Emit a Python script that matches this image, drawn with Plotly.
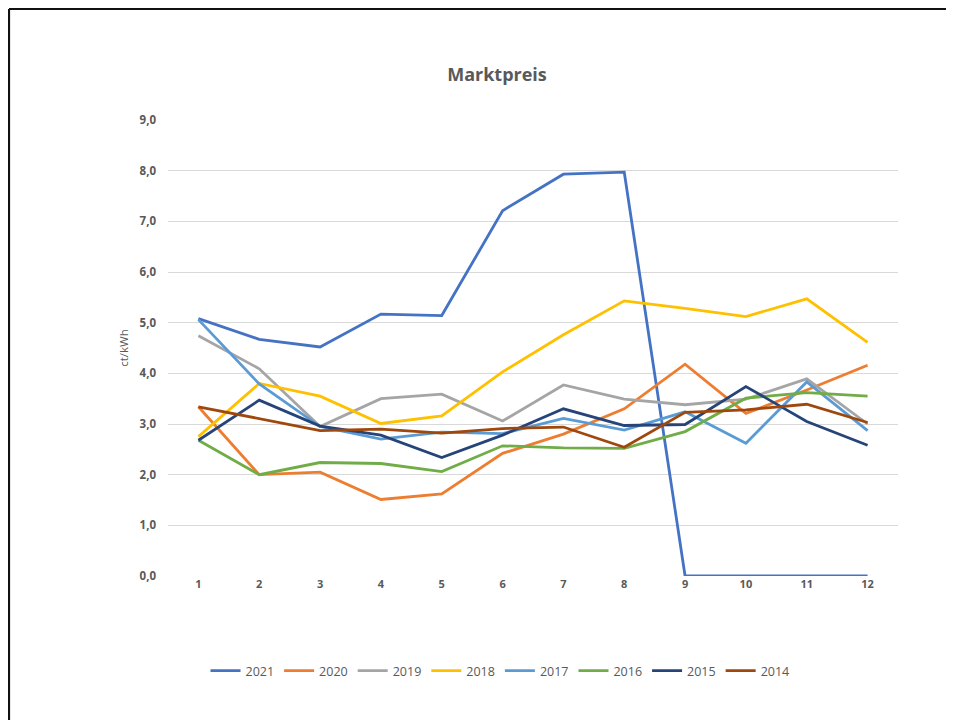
import plotly.graph_objects as go

months = [1, 2, 3, 4, 5, 6, 7, 8, 9, 10, 11, 12]
month_labels = ["1", "2", "3", "4", "5", "6", "7", "8", "9", "10", "11", "12"]

y2021 = [5.08, 4.67, 4.52, 5.17, 5.14, 7.21, 7.93, 7.97, 0.0, 0.0, 0.0, 0.0]
y2020 = [3.34, 2.00, 2.05, 1.51, 1.62, 2.42, 2.80, 3.30, 4.18, 3.21, 3.67, 4.16]
y2019 = [4.74, 4.09, 2.95, 3.50, 3.59, 3.06, 3.77, 3.49, 3.38, 3.49, 3.89, 3.00]
y2018 = [2.75, 3.80, 3.55, 3.01, 3.16, 4.03, 4.76, 5.43, 5.28, 5.12, 5.47, 4.61]
y2017 = [5.06, 3.79, 2.95, 2.70, 2.84, 2.81, 3.11, 2.88, 3.24, 2.62, 3.83, 2.87]
y2016 = [2.68, 2.00, 2.24, 2.22, 2.06, 2.57, 2.53, 2.52, 2.85, 3.51, 3.62, 3.55]
y2015 = [2.68, 3.47, 2.96, 2.78, 2.34, 2.78, 3.30, 2.97, 2.99, 3.74, 3.05, 2.58]
y2014 = [3.34, 3.11, 2.87, 2.90, 2.82, 2.91, 2.94, 2.54, 3.23, 3.28, 3.39, 3.03]

series_names = ["2021", "2020", "2019", "2018", "2017", "2016", "2015", "2014"]
series_values = [y2021, y2020, y2019, y2018, y2017, y2016, y2015, y2014]
colors = ["#4472C4", "#ED7D31", "#A5A5A5", "#FFC000", "#5B9BD5", "#70AD47", "#264478", "#9E480E"]

y_ticks = [0, 1, 2, 3, 4, 5, 6, 7, 8, 9]
y_ticklabels = ["0,0", "1,0", "2,0", "3,0", "4,0", "5,0", "6,0", "7,0", "8,0", "9,0"]

fig = go.Figure()
for name, vals, c in zip(series_names, series_values, colors):
    fig.add_trace(go.Scatter(x=months, y=vals, name=name, mode="lines",
                             line=dict(color=c, width=2.8)))

# the page puts the figure at (8, 8); work in figure coordinates
OFF = 8
W, H = 954 - OFF, 720 - OFF
L, R, T, B = 168 - OFF, 898 - OFF, 120 - OFF, 576 - OFF
pw, ph = R - L, B - T

fig.update_layout(
    width=W, height=H,
    margin=dict(l=L, r=W - R, t=T, b=H - B),
    paper_bgcolor="white", plot_bgcolor="white",
    font=dict(family="Open Sans, Calibri, sans-serif", color="#595959"),
    title=dict(text="<b>Marktpreis</b>", x=(497 - OFF) / W, xref="container", xanchor="center",
               y=1 - (75 - OFF) / H, yref="container", yanchor="middle",
               font=dict(size=18, color="#595959")),
    xaxis=dict(range=[0.5, 12.5], tickmode="array", tickvals=months,
               ticktext=[f"<b>{t}</b>" for t in month_labels],
               showgrid=False, zeroline=False, showline=False, ticks="",
               tickfont=dict(size=11, color="#595959", family="Open Sans, sans-serif"),
               tickangle=0),
    yaxis=dict(range=[0, 9], tickmode="array", tickvals=y_ticks,
               ticktext=[f"<b>{t}</b>" for t in y_ticklabels],
               showgrid=True, gridcolor="#D9D9D9", gridwidth=1, zeroline=False, showline=False,
               ticks="", ticklabelstandoff=11,
               tickfont=dict(size=11.5, color="#595959", family="Open Sans, sans-serif"),
               title=dict(text="ct/kWh", font=dict(size=11.5, color="#595959"), standoff=8)),
    legend=dict(orientation="h", x=(500 - OFF) / W, xanchor="center", xref="container",
                y=1 - (671 - OFF) / H, yref="container", yanchor="middle",
                font=dict(size=12.5, color="#595959"), itemwidth=30, tracegroupgap=0),
    showlegend=True,
)

# outer frame (left and top border)
fig.add_shape(type="line", xref="paper", yref="paper",
              x0=(1 - L) / pw, x1=(W + 5 - L) / pw, y0=(B - 1) / ph, y1=(B - 1) / ph,
              line=dict(color="#111111", width=2.2))
fig.add_shape(type="line", xref="paper", yref="paper",
              x0=(1 - L) / pw, x1=(1 - L) / pw, y0=(B - 1) / ph, y1=(B - H - 5) / ph,
              line=dict(color="#111111", width=2.2))

fig.write_html("out.html")
